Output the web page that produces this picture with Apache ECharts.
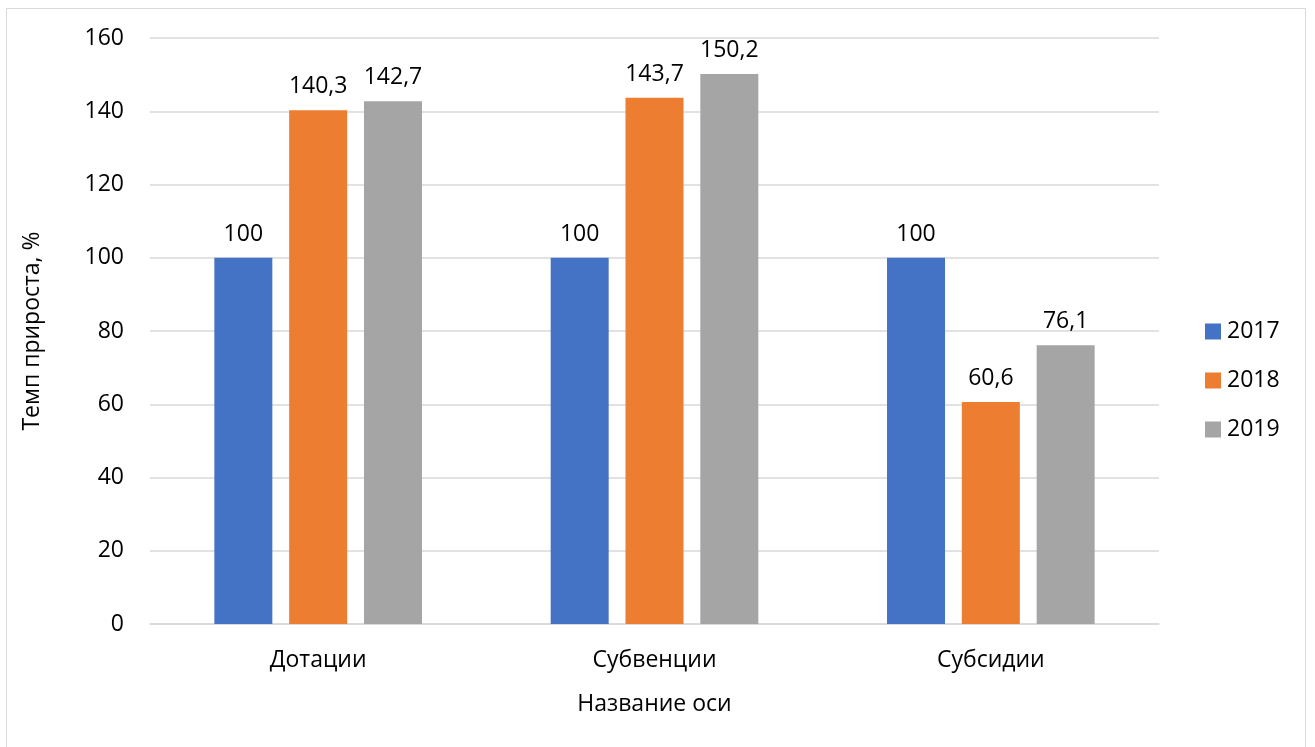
<!DOCTYPE html>
<html>
<head>
<meta charset="utf-8">
<script src="https://cdn.jsdelivr.net/npm/echarts@6/dist/echarts.min.js"></script>
<style>
  html, body { margin: 0; padding: 0; background: #fff; }
  #frame { position: absolute; left: 6px; top: 8px; width: 1300px; height: 760px; border: 1px solid #d9d9d9; box-sizing: border-box; }
  #chart { width: 1315px; height: 747px; position: absolute; left: 0; top: 0; }
</style>
</head>
<body>
<div id="frame"></div>
<div id="chart"></div>
<script>
// Grant types and growth rates by year
const categories = ['Дотации', 'Субвенции', 'Субсидии'];
const years = ['2017', '2018', '2019'];
const values2017 = [100, 100, 100];
const values2018 = [140.3, 143.7, 60.6];
const values2019 = [142.7, 150.2, 76.1];
const colors = ['#4472c4', '#ed7d31', '#a5a5a5'];

const FONT = 'Open Sans';
const SIZE = 23;
const fmt = v => String(v).replace('.', ',');

function barSeries(name, data, color) {
  return {
    name: name,
    type: 'bar',
    data: data,
    barWidth: 58,
    barGap: '29%',
    itemStyle: { color: color },
    label: {
      show: true,
      position: 'top',
      distance: 12,
      color: '#000',
      fontFamily: FONT,
      fontSize: SIZE,
      formatter: p => fmt(p.value)
    }
  };
}

const chart = echarts.init(document.getElementById('chart'), null, { renderer: 'canvas' });
chart.setOption({
  animation: false,
  backgroundColor: 'transparent',
  textStyle: { fontFamily: FONT },
  grid: { left: 150, right: 156, top: 38, bottom: 123, containLabel: false },
  legend: {
    orient: 'vertical',
    left: 1200,
    top: 315,
    itemWidth: 16,
    itemHeight: 16,
    itemGap: 26,
    icon: 'rect',
    data: years,
    textStyle: { fontFamily: FONT, fontSize: SIZE, color: '#000', padding: [0, 0, 0, 1] }
  },
  xAxis: {
    type: 'category',
    data: categories,
    name: 'Название оси',
    nameLocation: 'middle',
    nameGap: 69,
    nameTextStyle: { fontFamily: FONT, fontSize: SIZE, color: '#000' },
    axisLine: { lineStyle: { color: '#d9d9d9', width: 1.5 } },
    axisTick: { show: false },
    axisLabel: { color: '#000', fontFamily: FONT, fontSize: SIZE, margin: 25 },
    z: 1
  },
  yAxis: {
    type: 'value',
    min: 0,
    max: 160,
    interval: 20,
    name: 'Темп прироста, %',
    nameLocation: 'middle',
    nameGap: 106,
    nameRotate: 90,
    nameTextStyle: { fontFamily: FONT, fontSize: SIZE, color: '#000' },
    axisLine: { show: false },
    axisTick: { show: false },
    axisLabel: { color: '#000', fontFamily: FONT, fontSize: SIZE, margin: 26 },
    splitLine: { lineStyle: { color: '#d9d9d9', width: 1.5 } }
  },
  series: [
    barSeries(years[0], values2017, colors[0]),
    barSeries(years[1], values2018, colors[1]),
    barSeries(years[2], values2019, colors[2])
  ]
});
</script>
</body>
</html>
